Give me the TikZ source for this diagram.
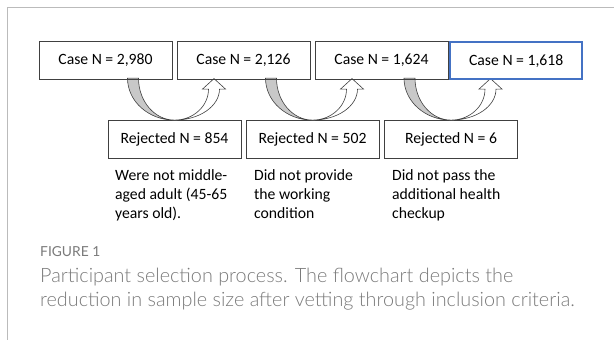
\documentclass[tikz,border=0pt]{standalone}
\usepackage{fontspec}
\setmainfont{Carlito}
\IfFontExistsTF{Lato Light}{\newfontfamily\capfont{Lato Light}}{\newfontfamily\capfont{Lato}}
\newfontfamily\figfont{Lato}
\definecolor{framegray}{HTML}{BBBBBB}
\definecolor{bandgray}{HTML}{C8C8C8}
\definecolor{boxline}{HTML}{404040}
\definecolor{finalblue}{HTML}{4472C4}
\definecolor{capgray}{HTML}{7A7A7A}
\tikzset{
  casebox/.style={draw=boxline, line width=0.8pt, minimum width=133pt, minimum height=38pt,
    inner sep=0pt, font=\fontsize{15.7}{19}\selectfont, text=black},
  finalbox/.style={casebox, draw=finalblue, line width=2pt, minimum width=132pt, minimum height=37pt},
  reason/.style={anchor=base west, inner sep=0pt, align=left,
    font=\fontsize{15.7}{19}\selectfont, text=black},
  band/.style={fill=bandgray, draw=boxline, line width=0.6pt},
  shaft/.style={fill=white, draw=boxline, line width=0.6pt},
}
% curved up arrow, drawn around the top centre of a rejected box
\newcommand{\uturnarrow}[1]{%
  \begin{scope}[shift={(#1.north)}]
    \path[band] (-47,-42) .. controls (-47,-18.8) and (-26,0) .. (0,0)
      .. controls (-19.9,0) and (-36,-18.8) .. (-36,-42) -- cycle;
    \path[shaft] (0,0) .. controls (24.9,0) and (45,-13.9) .. (45,-31)
      -- (51,-31) -- (39.5,-41.5) -- (28,-31) -- (34,-31)
      .. controls (34,-13.9) and (18.8,0) .. (0,0) -- cycle;
  \end{scope}}
\begin{document}
\begin{tikzpicture}[x=1pt,y=-1pt]
\useasboundingbox (0,0) rectangle (614,340);
% frame edge
\draw[framegray, line width=1pt] (7,340) -- (7,7) -- (614,7);

% rejected cases
\node[casebox] (r1) at (174.5,139.5) {Rejected N = 854};
\node[casebox] (r2) at (312.5,139.5) {Rejected N = 502};
\node[casebox] (r3) at (451,139.5) {Rejected N = 6};

% curved arrows between the case boxes
\uturnarrow{r1}
\uturnarrow{r2}
\uturnarrow{r3}

% case counts
\node[casebox] (c1) at (105.5,60.5) {Case N = 2,980};
\node[casebox] (c2) at (243.5,60.5) {Case N = 2,126};
\node[casebox] (c3) at (381.5,60.5) {Case N = 1,624};
\node[finalbox] (c4) at (516.2,60.7) {Case N = 1,618};

% reasons for rejection (base anchor sits on the last line)
\node[reason] (t1) at (115,218) {Were not middle-\\aged adult (45-65\\years old).};
\node[reason] (t2) at (254,218) {Did not provide\\the working\\condition};
\node[reason] (t3) at (392,218) {Did not pass the\\additional health\\checkup};

% caption
\node[anchor=base west, inner sep=0pt, text=capgray, font=\figfont\fontsize{13.8}{16}\selectfont] (fig) at (40,256) {FIGURE 1};
\node[anchor=base west, inner sep=0pt, align=left, text=capgray,
  font=\capfont\fontsize{19.8}{23.3}\selectfont] (cap) at (40,306)
  {Participant selection process. The flowchart depicts the\\reduction in sample size after vetting through inclusion criteria.};
\end{tikzpicture}
\end{document}
